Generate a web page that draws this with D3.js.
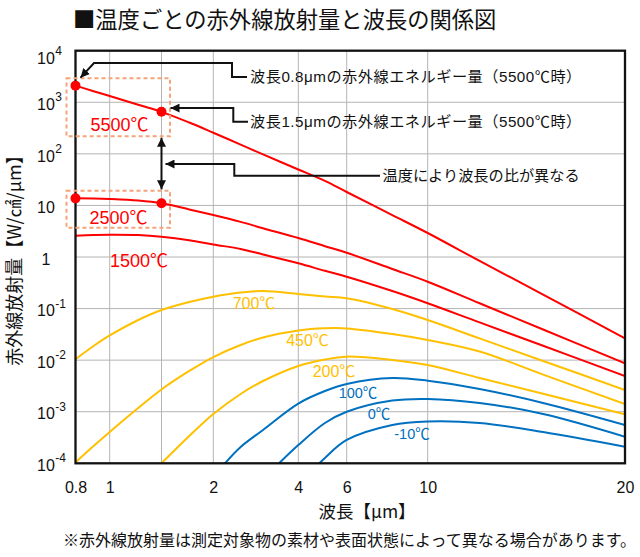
<!DOCTYPE html>
<html><head><meta charset="utf-8">
<script src="https://cdn.jsdelivr.net/npm/d3@7"></script>
<style>
body{margin:0;background:#fff;}
svg{display:block;}
text{font-family:"Liberation Sans","Noto Sans CJK JP",Arial,sans-serif;}
.jp{font-family:"Noto Sans CJK JP","Liberation Sans",sans-serif;}
</style></head><body>
<svg id="c" width="640" height="557"></svg>
<script>
// ---------- data ----------
const xTicks = [0.8, 1, 2, 4, 6, 10, 20];
const xGrid = [1, 1.5, 2, 4, 6, 10];
const yTicks = [1e4, 1e3, 1e2, 10, 1, 0.1, 0.01, 0.001, 0.0001];
const yTickBase = ["10", "10", "10", "10", "1", "10", "10", "10", "10"];
const yTickExp = ["4", "3", "2", "", "", "-1", "-2", "-3", "-4"];

const wlA = [0.8, 0.9, 1, 1.25, 1.5, 1.75, 2, 2.5, 3, 4, 5, 6, 8, 10, 12, 15, 20];
const v5500 = [2100, 1640, 1320, 893, 653, 405, 257, 151, 97.5, 49.8, 29.8, 18.2, 6.5, 2.92, 0.84, 0.187, 0.0265];
const v2500 = [13.7, 13.6, 13.3, 12.4, 11.0, 8.37, 6.52, 4.80, 3.62, 2.34, 1.62, 1.21, 0.585, 0.332, 0.127, 0.0393, 0.00869];
const v1500 = [2.59, 2.67, 2.71, 2.67, 2.48, 2.12, 1.75, 1.43, 1.12, 0.755, 0.54, 0.415, 0.219, 0.127, 0.054, 0.019, 0.00493];
const v700  = [0.0104, 0.0188, 0.0301, 0.060, 0.0938, 0.134, 0.170, 0.205, 0.219, 0.192, 0.171, 0.158, 0.098, 0.060, 0.0264, 0.00964, 0.00264];
const v450  = [1.04e-4, 2.16e-4, 4.05e-4, 1.18e-3, 2.70e-3, 6.17e-3, 0.0115, 0.0197, 0.0275, 0.0376, 0.0415, 0.0413, 0.0321, 0.0246, 0.0147, 0.00525, 0.00141];
const wl200 = [1.5, 1.75, 2, 2.5, 3, 4, 5, 6, 8, 10, 12, 15, 20];
const v200  = [1.0e-4, 3.38e-4, 9.04e-4, 2.21e-3, 3.94e-3, 7.71e-3, 0.0103, 0.0117, 0.0101, 0.00805, 0.00451, 0.00223, 8.91e-4];
const wl100 = [2.2, 2.5, 3, 4, 5, 6, 8, 10, 12, 15, 20];
const v100  = [1.0e-4, 2.07e-4, 4.43e-4, 1.44e-3, 2.52e-3, 3.45e-3, 4.51e-3, 4.00e-3, 2.76e-3, 1.48e-3, 5.53e-4];
const wl0   = [3.42, 4, 5, 6, 8, 10, 12, 15, 20];
const v0    = [1.0e-4, 2.26e-4, 6.04e-4, 1.00e-3, 1.65e-3, 1.77e-3, 1.48e-3, 9.04e-4, 3.28e-4];
const wlM10 = [4.77, 5, 6, 8, 10, 12, 15, 20];
const vM10  = [1.0e-4, 1.27e-4, 2.83e-4, 5.53e-4, 6.46e-4, 6.04e-4, 4.05e-4, 2.10e-4];

const seriesNames = ["5500℃", "2500℃", "1500℃", "700℃", "450℃", "200℃", "100℃", "0℃", "-10℃"];
const seriesWl = [wlA, wlA, wlA, wlA, wlA, wl200, wl100, wl0, wlM10];
const seriesVal = [v5500, v2500, v1500, v700, v450, v200, v100, v0, vM10];
const seriesGroup = ["hot", "hot", "hot", "mid", "mid", "mid", "cold", "cold", "cold"];

const dotWl = [0.8, 1.5, 0.8, 1.5];
const dotVal = [2100, 653, 13.7, 11.0];

const titleText = "■温度ごとの赤外線放射量と波長の関係図";
const yTitle = "赤外線放射量【W/㎠/μm】";
const xTitle = "波長【μm】";
const note = "※赤外線放射量は測定対象物の素材や表面状態によって異なる場合があります。";
const ann1 = "波長0.8μmの赤外線エネルギー量（5500℃時）";
const ann2 = "波長1.5μmの赤外線エネルギー量（5500℃時）";
const ann3 = "温度により波長の比が異なる";

// ---------- styles / layout ----------
const colors = {hot: "#ff0000", mid: "#ffc000", cold: "#0070c0"};
const L = 75.5, R = 625, T = 50.7, B = 463.3;
const svg = d3.select("#c");

const x = d3.scaleLog()
  .domain([0.8, 1, 1.5, 2, 4, 6, 10, 20])
  .range([L, 109.7, 161.5, 213.3, 298.3, 346.7, 427.7, R]);
const y = d3.scaleLog().domain([1e-4, 1e4]).range([B, T]);

svg.append("defs").append("clipPath").attr("id", "clip")
  .append("rect").attr("x", L).attr("y", T).attr("width", R - L).attr("height", B - T);

// grid
const grid = svg.append("g");
grid.selectAll("line.v").data(xGrid).join("line")
  .attr("x1", d => x(d)).attr("x2", d => x(d)).attr("y1", T).attr("y2", B)
  .attr("stroke", "#b4b4b4").attr("stroke-width", 1);
grid.selectAll("line.h").data(yTicks.slice(1, -1)).join("line")
  .attr("y1", d => y(d)).attr("y2", d => y(d)).attr("x1", L).attr("x2", R)
  .attr("stroke", "#b4b4b4").attr("stroke-width", 1);

// curves
const line = d3.line().x(d => x(d[0])).y(d => y(d[1])).curve(d3.curveCatmullRom.alpha(0.5));
const curves = svg.append("g").attr("clip-path", "url(#clip)");
seriesNames.forEach((n, i) => {
  const pts = seriesWl[i].map((w, j) => [w, seriesVal[i][j]]);
  curves.append("path").attr("d", line(pts)).attr("fill", "none")
    .attr("stroke", colors[seriesGroup[i]]).attr("stroke-width", 2);
});

// frame
svg.append("rect").attr("x", L).attr("y", T).attr("width", R - L).attr("height", B - T)
  .attr("fill", "none").attr("stroke", "#111").attr("stroke-width", 2.3);

// x axis
const xAxis = d3.axisBottom(x).tickValues(xTicks).tickSize(0).tickPadding(18)
  .tickFormat(d => String(d));
const gx = svg.append("g").attr("transform", `translate(0,${B})`).call(xAxis);
gx.select(".domain").remove();
gx.selectAll("text").attr("font-size", 16).attr("fill", "#111")
  .attr("font-family", "Liberation Sans, Arial, sans-serif");

// y axis
const yAxis = d3.axisLeft(y).tickValues(yTicks).tickSize(0).tickFormat(() => "");
const gy = svg.append("g").attr("transform", `translate(${L},0)`).call(yAxis);
gy.select(".domain").remove();
gy.selectAll(".tick text").each(function(d, i) {
  const t = d3.select(this);
  t.attr("text-anchor", "start").attr("font-size", 16).attr("fill", "#111")
    .attr("font-family", "Liberation Sans, Arial, sans-serif")
    .attr("x", yTickBase[i] === "1" ? 41.5 - L : 37 - L)
    .attr("dy", i === 0 ? "0.78em" : "0.45em");
  t.append("tspan").text(yTickBase[i]);
  if (yTickExp[i]) t.append("tspan").attr("font-size", 12).attr("dy", "-0.72em").attr("dx", "0.5").text(yTickExp[i]);
});

// titles
svg.append("text").attr("class", "jp").attr("x", 73).attr("y", 28).attr("font-size", 22.3)
  .attr("fill", "#111").text(titleText);
svg.append("text").attr("class", "jp").attr("transform", "translate(20.5,256) rotate(-90)")
  .attr("text-anchor", "middle").attr("font-size", 18).attr("fill", "#111").text(yTitle);
svg.append("text").attr("class", "jp").attr("x", 367).attr("y", 518).attr("text-anchor", "middle")
  .attr("font-size", 17.5).attr("fill", "#111").text(xTitle);
svg.append("text").attr("class", "jp").attr("x", 63).attr("y", 546).attr("font-size", 16)
  .attr("fill", "#111").text(note);

// dashed boxes
const boxes = [[0, 1], [2, 3]];
boxes.forEach(([a, b]) => {
  const x0 = x(dotWl[a]) - 9, x1 = x(dotWl[b]) + 8.5;
  const y0 = y(dotVal[a]) - 7.5, y1 = y(dotVal[b]) + 24.5;
  svg.append("rect").attr("x", x0).attr("y", y0).attr("width", x1 - x0).attr("height", y1 - y0)
    .attr("fill", "none").attr("stroke", "#f4a37a").attr("stroke-width", 2)
    .attr("stroke-dasharray", "4,3");
});

// dots
svg.selectAll("circle.dot").data(dotWl).join("circle")
  .attr("cx", (d, i) => x(d)).attr("cy", (d, i) => y(dotVal[i])).attr("r", 5)
  .attr("fill", colors.hot);

// series labels
const labelPos = [[119.5, 125], [118.5, 217.5], [139, 260.7], [254, 303.3], [307.5, 340], [334, 371], [358, 392.5], [379, 413.5], [412, 433.5]];
const labelSize = [18, 18, 18, 16, 16, 16, 14.5, 14.5, 14.5];
seriesNames.forEach((n, i) => {
  svg.append("text").attr("x", labelPos[i][0]).attr("y", labelPos[i][1]).attr("dy", "0.36em")
    .attr("text-anchor", "middle").attr("font-size", labelSize[i])
    .attr("fill", colors[seriesGroup[i]]).text(n);
});

// arrows
const defs = svg.select("defs");
defs.append("marker").attr("id", "ah").attr("viewBox", "0 0 10 10").attr("refX", 10).attr("refY", 5)
  .attr("markerWidth", 9).attr("markerHeight", 9).attr("markerUnits", "userSpaceOnUse")
  .attr("orient", "auto-start-reverse")
  .append("path").attr("d", "M0,0 L10,5 L0,10 z").attr("fill", "#111");
const ann = svg.append("g").attr("fill", "none").attr("stroke", "#111").attr("stroke-width", 2);
const p1x = x(dotWl[0]), p1y = y(dotVal[0]);
const p2x = x(dotWl[1]), p2y = y(dotVal[1]);
const p4y = y(dotVal[3]);
ann.append("path").attr("d", `M247,77 H232 V63 H94 L${p1x + 5},${p1y - 8}`).attr("marker-end", "url(#ah)");
ann.append("path").attr("d", `M248,121.7 H233.3 V${p2y - 3.7} H${p2x + 9}`).attr("marker-end", "url(#ah)");
ann.append("path").attr("d", `M380,175.7 H234.3 V164 H${p2x + 4}`).attr("marker-end", "url(#ah)");
ann.append("path").attr("d", `M${p2x},${p2y + 26} V${p4y - 14}`)
  .attr("marker-start", "url(#ah)").attr("marker-end", "url(#ah)");

const annT = [[ann1, 250, 77, 0.5], [ann2, 250, 121.7, 0.5], [ann3, 382.5, 175.7, 0]];
annT.forEach(([t, ax, ay, ls]) => {
  svg.append("text").attr("x", ax).attr("y", ay).attr("dy", "0.36em")
    .attr("font-size", 15.2).attr("letter-spacing", ls).attr("fill", "#111").text(t);
});
</script>
</body></html>
